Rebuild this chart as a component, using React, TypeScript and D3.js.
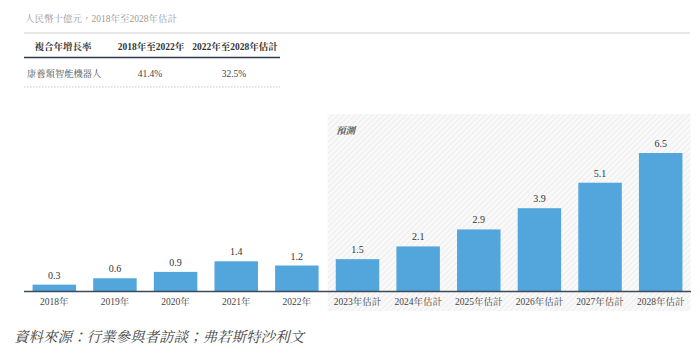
import React from "react";
import * as d3 from "d3";

const categories = ["2018年", "2019年", "2020年", "2021年", "2022年", "2023年估計", "2024年估計", "2025年估計", "2026年估計", "2027年估計", "2028年估計"];
const values = [0.3, 0.6, 0.9, 1.4, 1.2, 1.5, 2.1, 2.9, 3.9, 5.1, 6.5];
const forecastStart = "2023年估計";
const titleText = "人民幣十億元，2018年至2028年估計";
const tableHeader = ["複合年增長率", "2018年至2022年", "2022年至2028年估計"];
const tableRow = ["康養類智能機器人", "41.4%", "32.5%"];
const forecastLabel = "預測";
const sourceText = "資料來源：行業參與者訪談；弗若斯特沙利文";

const W = 700;
const H = 358;
const SERIF = "'Liberation Serif', 'Noto Serif CJK TC', 'Noto Sans CJK TC', serif";

export default function App() {
  const x = d3.scaleBand<string>().domain(categories).range([24, 691]).paddingInner(0.283).paddingOuter(0.1415);
  const y = d3.scaleLinear().domain([0, 6.5]).range([291, 153]);
  const fx = (x(forecastStart) as number) - (x.step() - x.bandwidth()) / 2;

  return (
    <svg width={W} height={H} style={{ position: "absolute", left: 0, top: 0, background: "#fff" }} fontFamily={SERIF}>
      <defs>
        <pattern id="hatch" patternUnits="userSpaceOnUse" width="4" height="4" patternTransform="rotate(45)">
          <rect width="4" height="4" fill="#f9f9f9" />
          <line x1="0" y1="0" x2="0" y2="4" stroke="#e8e8e8" strokeWidth="1.4" />
        </pattern>
      </defs>

      {/* title */}
      <text x={25} y={22} fontSize={9.5} fill="#9a9a9a">{titleText}</text>
      <line x1={24} x2={690} y1={33} y2={33} stroke="#d0d0d0" strokeWidth={1} />

      {/* table */}
      <text x={63} y={50} fontSize={9.5} fontWeight="bold" fill="#333" textAnchor="middle">{tableHeader[0]}</text>
      <text x={151} y={50} fontSize={9.5} fontWeight="bold" fill="#333" textAnchor="middle">{tableHeader[1]}</text>
      <text x={235} y={50} fontSize={9.5} fontWeight="bold" fill="#333" textAnchor="middle">{tableHeader[2]}</text>
      <line x1={24} x2={280} y1={57.5} y2={57.5} stroke="#2d3a4e" strokeWidth={1.3} />
      <text x={27} y={77} fontSize={9.3} fill="#555">{tableRow[0]}</text>
      <text x={150} y={77} fontSize={9.5} fill="#444" textAnchor="middle">{tableRow[1]}</text>
      <text x={234} y={77} fontSize={9.5} fill="#444" textAnchor="middle">{tableRow[2]}</text>
      <line x1={24} x2={280} y1={87} y2={87} stroke="#c8c8c8" strokeWidth={1} strokeDasharray="1.5,1.5" />

      {/* forecast area */}
      <rect x={fx + 0.5} y={114} width={690 - fx} height={197} fill="url(#hatch)" />
      <text x={336} y={134} fontSize={9.5} fontWeight="bold" fontStyle="italic" fill="#555">{forecastLabel}</text>

      {/* bars */}
      {categories.map((c, i) => (
        <g key={c}>
          <rect x={x(c)} y={y(values[i])} width={x.bandwidth()} height={y(0) - y(values[i])} fill="#52a6dc" />
          <text x={(x(c) as number) + x.bandwidth() / 2} y={y(values[i]) - 6} fontSize={10} fill="#333" textAnchor="middle">
            {values[i].toFixed(1)}
          </text>
          <text x={(x(c) as number) + x.bandwidth() / 2} y={305} fontSize={9.5} fill="#444" textAnchor="middle">
            {c}
          </text>
        </g>
      ))}

      <line x1={24} x2={691} y1={y(0) + 0.5} y2={y(0) + 0.5} stroke="#3e4a5a" strokeWidth={1.5} />

      {/* source */}
      <text x={14} y={342} fontSize={14.5} fontStyle="italic" fill="#444">{sourceText}</text>
    </svg>
  );
}
